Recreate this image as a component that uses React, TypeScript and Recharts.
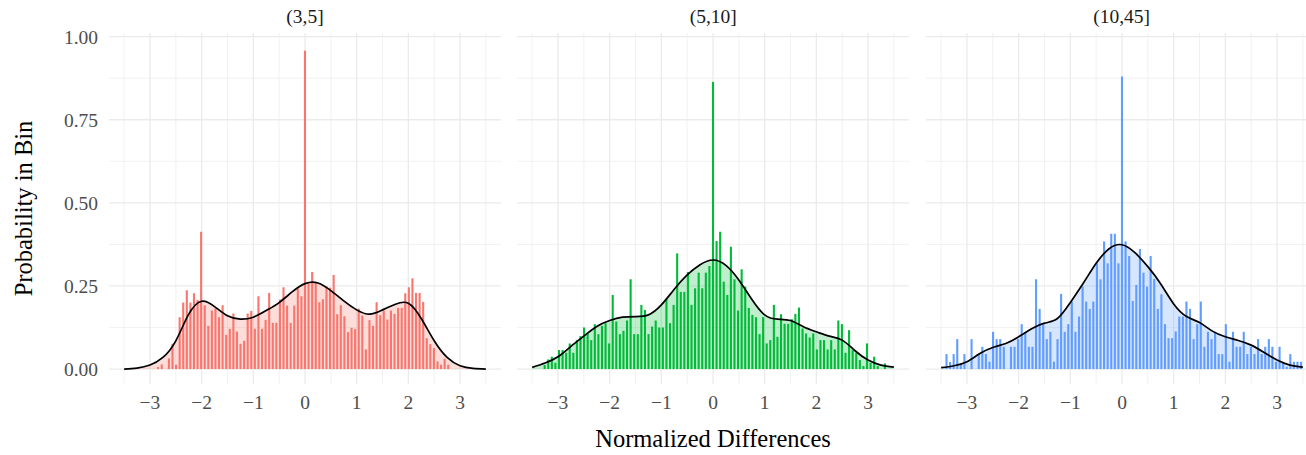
import { ComposedChart, Bar, Area, Line, XAxis, YAxis, CartesianGrid } from 'recharts';

// facet labels and colours (ggplot default hues)
const facets = ['(3,5]', '(5,10]', '(10,45]'];
const facetColors = ['#F8766D', '#00BA38', '#619CFF'];

const xTicks = [-3, -2, -1, 0, 1, 2, 3];
const xMinor = [-3.5, -2.5, -1.5, -0.5, 0.5, 1.5, 2.5, 3.5];
const yTicks = [0, 0.25, 0.5, 0.75, 1];
const yMinor = [0.125, 0.375, 0.625, 0.875];

// 101 equal bins over [-3.5, 3.5]
const binCount = 101;
const binLow = -3.5;
const binHigh = 3.5;
const binWidth = (binHigh - binLow) / binCount;
const binMids = Array.from({ length: binCount }, (_, i) => +(binLow + binWidth * (i + 0.5)).toFixed(4));

const probSmall = [
  0, 0, 0, 0, 0, 0, 0, 0, 0,
  0.006, 0.014, 0, 0.032, 0.076, 0.013, 0.156, 0.2, 0.237, 0.2, 0.228, 0.208,
  0.413, 0.192, 0.13, 0.176, 0.182, 0.156, 0.192, 0.103, 0.121, 0.167,
  0.113, 0.076, 0.085, 0.167, 0.175, 0.121, 0.219, 0.121, 0.148, 0.229,
  0.139, 0.139, 0.209, 0.246, 0.191, 0.139, 0.191, 0.242, 0.219, 0.958,
  0.259, 0.292, 0.259, 0.201, 0.21, 0.249, 0.245, 0.283, 0.165, 0.192,
  0.159, 0.111, 0.124, 0.12, 0.182, 0.161, 0.059, 0.147, 0.13, 0.201,
  0.162, 0.176, 0.149, 0.176, 0.166, 0.184, 0.184, 0.228, 0.246, 0.273,
  0.229, 0.229, 0.202, 0.093, 0.075, 0.063, 0.023, 0.013, 0.031, 0.013,
  0, 0, 0, 0, 0, 0, 0, 0, 0, 0,
];

const probMid = [
  0, 0, 0,
  0.012, 0.029, 0.037, 0.019, 0.057, 0.057, 0.049, 0.077, 0.049, 0.087,
  0.099, 0.125, 0.107, 0.087, 0.135, 0.105, 0.13, 0.138, 0.077, 0.223,
  0.143, 0.105, 0.115, 0.146, 0.27, 0.105, 0.105, 0.193, 0.178, 0.105,
  0.128, 0.146, 0.125, 0.125, 0.212, 0.138, 0.193, 0.348, 0.232, 0.232,
  0.292, 0.193, 0.243, 0.29, 0.243, 0.29, 0.31, 0.864, 0.385, 0.413,
  0.263, 0.223, 0.368, 0.27, 0.176, 0.3, 0.248, 0.184, 0.163, 0.156,
  0.105, 0.156, 0.077, 0.087, 0.193, 0.097, 0.165, 0.136, 0.136, 0.15,
  0.166, 0.185, 0.122, 0.107, 0.095, 0.107, 0.059, 0.087, 0.087, 0.059,
  0.087, 0.059, 0.146, 0.135, 0.049, 0.117, 0.057, 0.049, 0.027, 0.009,
  0.077, 0.019, 0.037, 0.009, 0, 0.017, 0, 0,
];

const probLarge = [
  0, 0.045, 0.021, 0.045, 0.09, 0.017, 0.045, 0, 0.09, 0,
  0.045, 0.067, 0.045, 0.022, 0.112, 0.09, 0.09, 0.067, 0, 0.067,
  0.067, 0.09, 0.135, 0.112, 0.067, 0.067, 0.27, 0.181, 0.135, 0.09,
  0.112, 0.022, 0.09, 0.226, 0.112, 0.135, 0.203, 0.112, 0.158, 0.248,
  0.203, 0.181, 0.203, 0.318, 0.27, 0.384, 0.318, 0.407, 0.407, 0.318,
  0.88, 0.384, 0.34, 0.205, 0.253, 0.361, 0.29, 0.248, 0.34, 0.271,
  0.181, 0.225, 0.135, 0.093, 0.093, 0.113, 0.158, 0.158, 0.203, 0.181,
  0.09, 0.135, 0.203, 0.067, 0.112, 0.09, 0.112, 0.045, 0.045, 0.135,
  0.022, 0.112, 0.067, 0.067, 0.112, 0.045, 0.067, 0.045, 0.09, 0.045,
  0.067, 0.09, 0.067, 0.022, 0.067, 0.022, 0.007, 0.045, 0.022, 0.022, 0.022,
];

// scaled density curve, read every 0.25
const densX = [
  -3.5, -3.25, -3, -2.75, -2.5, -2.25, -2, -1.75, -1.5, -1.25, -1, -0.75, -0.5, -0.25,
  0, 0.25, 0.5, 0.75, 1, 1.25, 1.5, 1.75, 2, 2.25, 2.5, 2.75, 3, 3.25, 3.5,
];
const densSmall = [
  0, 0.003, 0.012, 0.035, 0.085, 0.165, 0.204, 0.188, 0.16, 0.15, 0.156, 0.176, 0.2, 0.232,
  0.257, 0.259, 0.236, 0.205, 0.178, 0.165, 0.178, 0.195, 0.198, 0.152, 0.085, 0.035, 0.01, 0.002, 0,
];
const densMid = [
  0.005, 0.018, 0.037, 0.068, 0.099, 0.128, 0.146, 0.156, 0.158, 0.163, 0.193, 0.24, 0.283, 0.314,
  0.328, 0.312, 0.268, 0.21, 0.163, 0.15, 0.146, 0.127, 0.112, 0.099, 0.087, 0.055, 0.027, 0.012, 0.006,
];
const densLarge = [
  0.004, 0.01, 0.022, 0.047, 0.065, 0.077, 0.097, 0.121, 0.138, 0.152, 0.2, 0.258, 0.318, 0.362,
  0.374, 0.35, 0.308, 0.256, 0.196, 0.158, 0.14, 0.114, 0.097, 0.086, 0.072, 0.05, 0.027, 0.012, 0.006,
];

const probs = [probSmall, probMid, probLarge];
const dens = [densSmall, densMid, densLarge];

const font = "'Liberation Serif', 'DejaVu Serif', serif";
const PANEL_W = 392;
const PLOT_H = 351;
const PLOT_TOP = 33.3;
const PAD = 12; // room above the plot so the top tick label is not clipped
const BAR_W = 2.1;
const panelLefts = [109, 517.3, 925.7];

const fmtX = (v: number) => (v < 0 ? '\u2212' + Math.abs(v) : String(v));

// keep the library's x/y/height, only force a fixed bar width around the bin centre
const binBar = (color: string) => (props: any) => {
  const { x, y, width, height } = props;
  if (!height || height <= 0) return <g />;
  const cx = x + width / 2;
  return <rect x={cx - BAR_W / 2} y={y} width={BAR_W} height={height} fill={color} />;
};

function Panel({ idx }: { idx: number }) {
  const showY = idx === 0;
  const yw = showY ? 109 : 0;
  const barData = binMids.map((x, i) => ({ x, p: probs[idx][i] }));
  const curve = densX.map((x, i) => ({ x, d: dens[idx][i] }));
  const color = facetColors[idx];
  return (
    <div style={{ position: 'absolute', left: panelLefts[idx] - yw, top: PLOT_TOP - PAD }}>
      <ComposedChart
        width={PANEL_W + yw}
        height={PLOT_H + 40 + PAD}
        data={barData}
        margin={{ top: PAD, right: 0, bottom: 0, left: 0 }}
      >
        <CartesianGrid stroke="#ebebeb" strokeWidth={0.7} horizontalValues={yMinor} verticalValues={xMinor} />
        <CartesianGrid stroke="#ebebeb" strokeWidth={1.3} horizontalValues={yTicks} verticalValues={xTicks} />
        <XAxis
          type="number"
          dataKey="x"
          domain={[-3.793, 3.793]}
          allowDataOverflow
          ticks={xTicks}
          interval={0}
          height={40}
          tickSize={0}
          tickMargin={11.6}
          axisLine={false}
          tickLine={false}
          tickFormatter={fmtX}
          tick={{ fill: '#4d4d4d', fontSize: 19.5, fontFamily: font }}
        />
        <YAxis
          type="number"
          domain={[-0.045, 1.011]}
          allowDataOverflow
          ticks={yTicks}
          interval={0}
          hide={!showY}
          width={yw || 1}
          tickSize={0}
          tickMargin={11}
          axisLine={false}
          tickLine={false}
          tickFormatter={(v: number) => v.toFixed(2)}
          tick={{ fill: '#4d4d4d', fontSize: 19.5, fontFamily: font }}
        />
        <Area
          data={curve}
          dataKey="d"
          type="natural"
          fill={color}
          fillOpacity={0.25}
          stroke="none"
          isAnimationActive={false}
        />
        <Bar dataKey="p" fill={color} barSize={2} shape={binBar(color)} isAnimationActive={false} />
        <Line
          data={curve}
          dataKey="d"
          type="natural"
          stroke="#000000"
          strokeWidth={1.7}
          dot={false}
          isAnimationActive={false}
        />
      </ComposedChart>
    </div>
  );
}

export default function App() {
  return (
    <div
      style={{
        position: 'absolute',
        left: 0,
        top: 0,
        width: 1306,
        height: 455,
        overflow: 'hidden',
        background: '#ffffff',
        fontFamily: font,
      }}
    >
      {facets.map((_, i) => (
        <Panel key={i} idx={i} />
      ))}
      <svg width={1306} height={455} style={{ position: 'absolute', left: 0, top: 0, pointerEvents: 'none' }}>
        {facets.map((f, i) => (
          <text
            key={f}
            x={panelLefts[i] + PANEL_W / 2}
            y={23}
            textAnchor="middle"
            fontSize={19.5}
            fill="#1a1a1a"
            fontFamily={font}
          >
            {f}
          </text>
        ))}
        <text x={713} y={447} textAnchor="middle" fontSize={24.5} fill="#000000" fontFamily={font}>
          Normalized Differences
        </text>
        <text
          x={31.5}
          y={208.5}
          transform="rotate(-90 31.5 208.5)"
          textAnchor="middle"
          fontSize={24.5}
          fill="#000000"
          fontFamily={font}
        >
          Probability in Bin
        </text>
      </svg>
    </div>
  );
}
